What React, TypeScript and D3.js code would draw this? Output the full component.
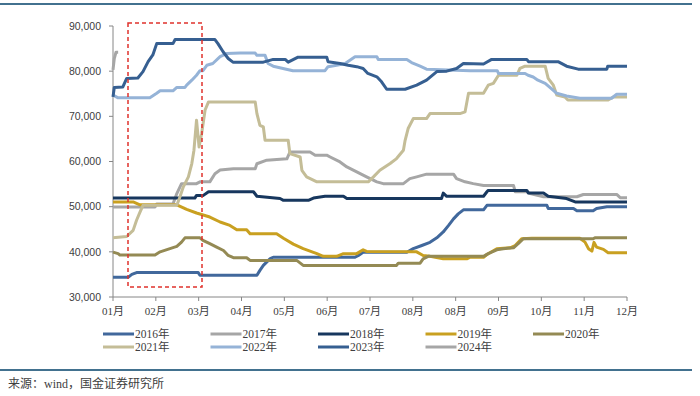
import React from 'react';
import * as d3 from 'd3';

// x positions are in month units (0 = 01月 tick, 12 = 12月 tick)
const months = ['01月', '02月', '03月', '04月', '05月', '06月', '07月', '08月', '08月', '09月', '10月', '11月', '12月'];
const yTicks = [30000, 40000, 50000, 60000, 70000, 80000, 90000];
const years = ['2016年', '2017年', '2018年', '2019年', '2020年', '2021年', '2022年', '2023年', '2024年'];
const colors = ['#41689C', '#A6A6A6', '#17375E', '#C9A020', '#948A54', '#C4BD97', '#95B3D7', '#365F91', '#A6A6A6'];

const s2016: [number, number][] = [
  [0, 34400], [0.36, 34400], [0.44, 35000], [0.55, 35400], [1.99, 35400], [2.03, 34800], [3.36, 34800],
  [3.43, 35900], [3.51, 37000], [3.67, 38500], [3.74, 38800], [5.65, 38800], [5.73, 39200], [5.84, 39900],
  [6.86, 39900], [7.01, 40700], [7.21, 41400], [7.4, 42100], [7.56, 43100], [7.71, 44400], [7.83, 45800],
  [7.95, 47300], [8.06, 48400], [8.18, 49300], [8.65, 49300], [8.73, 50300], [10.13, 50300], [10.16, 49600],
  [10.75, 49600], [10.83, 49100], [11.21, 49100], [11.29, 49600], [11.53, 50000], [12, 50000],
];
const s2017: [number, number][] = [
  [0, 49900], [0.98, 49900], [1.02, 50600], [1.4, 50600], [1.49, 52900], [1.6, 55100], [1.95, 55100],
  [2.03, 55500], [2.26, 55500], [2.38, 57300], [2.5, 58100], [2.81, 58400], [3.32, 58400], [3.36, 59500],
  [3.59, 60300], [4.06, 60600], [4.13, 62100], [4.6, 62100], [4.72, 61400], [4.99, 61400], [5.07, 61000],
  [5.3, 59900], [5.46, 58800], [5.69, 57700], [5.92, 56600], [6.16, 55500], [6.31, 55100], [6.78, 55100],
  [6.93, 56200], [7.09, 56600], [7.32, 57200], [7.95, 57200], [8.02, 56200], [8.22, 55500], [8.41, 55100],
  [8.65, 54700], [9.35, 54700], [9.39, 53300], [9.66, 53300], [9.74, 52900], [10.05, 52200], [10.83, 52200],
  [10.98, 52700], [11.76, 52700], [11.84, 52000], [12, 52000],
];
const s2018: [number, number][] = [
  [0, 51900], [1.91, 51900], [1.95, 52500], [2.11, 52500], [2.23, 53300], [3.28, 53300], [3.36, 52300],
  [3.9, 51800], [3.98, 51400], [4.56, 51400], [4.68, 51900], [4.95, 52300], [5.38, 52300], [5.46, 51800],
  [7.67, 51800], [7.71, 53000], [7.79, 52300], [8.65, 52300], [8.73, 53300], [8.76, 53600], [9.66, 53600],
  [9.7, 53000], [10.05, 53000], [10.16, 52300], [10.59, 51800], [10.79, 51050], [12, 51050],
];
const s2019: [number, number][] = [
  [0, 51050], [0.47, 51050], [0.63, 50400], [1.49, 50400], [1.72, 49400], [1.95, 48600], [2.26, 47700],
  [2.5, 46600], [2.73, 45850], [2.89, 44900], [3.12, 44900], [3.2, 44000], [3.82, 44000], [3.98, 43000],
  [4.21, 41700], [4.44, 40700], [4.76, 39600], [4.91, 39000], [5.22, 39000], [5.38, 39600], [5.69, 39600],
  [5.84, 40450], [5.92, 40100], [7.09, 40000], [7.24, 39200], [7.4, 39000], [7.71, 38450], [8.26, 38450],
  [8.34, 38800], [8.65, 38800], [8.73, 39400], [8.96, 40700], [9.27, 40900], [9.39, 41400], [9.54, 42900],
  [9.78, 43000], [10.9, 43000], [11.02, 42150], [11.1, 40700], [11.18, 40150], [11.23, 42100], [11.29, 41050],
  [11.45, 40550], [11.56, 39800], [12, 39800],
];
const s2020: [number, number][] = [
  [0, 39950], [0.12, 39600], [0.16, 39300], [0.98, 39300], [1.1, 40000], [1.33, 40700], [1.49, 41200],
  [1.6, 42150], [1.68, 43100], [2.03, 43100], [2.1, 42550], [2.26, 41800], [2.42, 41050], [2.58, 40300],
  [2.69, 39200], [2.81, 38700], [3.12, 38700], [3.2, 38100], [4.29, 38100], [4.44, 37000], [6.62, 37000],
  [6.66, 37500], [7.17, 37500], [7.24, 38450], [7.36, 39000], [8.65, 39000], [8.76, 39600], [8.96, 40450],
  [9.11, 40700], [9.35, 40900], [9.46, 41800], [9.58, 42900], [11.21, 42900], [11.25, 43100], [12, 43100],
];
const s2021: [number, number][] = [
  [0, 43100], [0.32, 43400], [0.47, 44750], [0.55, 47000], [0.63, 48800], [0.7, 50300], [1.49, 50300],
  [1.56, 52100], [1.64, 54350], [1.76, 56600], [1.84, 59550], [1.89, 62500], [1.95, 69150], [2.01, 63200],
  [2.07, 66200], [2.15, 71400], [2.23, 73200], [3.32, 73200], [3.36, 70600], [3.43, 68000], [3.51, 67650],
  [3.55, 64700], [4.09, 64700], [4.13, 61750], [4.37, 61000], [4.41, 58050], [4.52, 56600], [4.76, 55500],
  [5.96, 55500], [6.08, 56600], [6.23, 58050], [6.47, 59550], [6.62, 60650], [6.78, 62500], [6.82, 64700],
  [6.89, 67300], [7.01, 69500], [7.32, 69500], [7.4, 70600], [8.1, 70600], [8.22, 71000], [8.3, 75100],
  [8.65, 75100], [8.76, 76900], [8.88, 77300], [9.0, 79100], [9.43, 79100], [9.5, 80600], [9.62, 81100],
  [10.09, 81100], [10.16, 78400], [10.28, 76900], [10.36, 74700], [10.55, 74300], [10.62, 73600],
  [11.56, 73600], [11.68, 74300], [12, 74300],
];
const s2022: [number, number][] = [
  [0, 74700], [0.12, 74100], [0.86, 74100], [1.02, 75100], [1.1, 75650], [1.4, 75650], [1.49, 76400],
  [1.68, 76400], [1.72, 76900], [1.84, 78000], [1.95, 79100], [2.03, 80100], [2.1, 80100], [2.19, 81300],
  [2.33, 81700], [2.5, 83200], [2.65, 83900], [2.97, 84000], [3.32, 84000], [3.36, 83500], [3.55, 83500],
  [3.62, 81700], [3.74, 81100], [3.97, 80600], [4.2, 80100], [4.95, 80100], [5.02, 81000], [5.22, 81300],
  [5.42, 81700], [5.65, 83200], [6.16, 83200], [6.19, 82600], [6.86, 82600], [6.97, 81900], [7.17, 81100],
  [7.32, 80450], [8.34, 80100], [8.97, 80100], [9.0, 79500], [9.62, 79500], [9.69, 79100], [9.81, 78700],
  [9.92, 78000], [10.09, 77300], [10.2, 76400], [10.36, 75100], [10.59, 74500], [10.9, 74000], [11.64, 74000],
  [11.76, 74900], [12, 74900],
];
const s2023: [number, number][] = [
  [0, 74300], [0.03, 76400], [0.23, 76500], [0.32, 78400], [0.58, 78500], [0.7, 79900], [0.82, 82100],
  [0.93, 83600], [1.02, 86100], [1.4, 86100], [1.45, 87000], [2.38, 87000], [2.45, 86100], [2.57, 84300],
  [2.69, 82800], [2.8, 82000], [3.51, 82000], [3.74, 82600], [4.02, 82600], [4.09, 82000], [4.32, 83100],
  [4.99, 83100], [5.02, 82100], [5.3, 81700], [5.49, 81300], [5.69, 81000], [5.84, 80600], [5.95, 79500],
  [6.16, 78750], [6.27, 77650], [6.39, 76000], [6.82, 76000], [7.09, 76900], [7.32, 78000], [7.56, 79900],
  [7.79, 80000], [8.02, 80600], [8.18, 81700], [8.65, 81600], [8.84, 82600], [9.66, 82600], [9.7, 82100],
  [10.39, 82100], [10.59, 81100], [10.86, 80450], [11.53, 80450], [11.55, 81100], [12, 81100],
];
const s2024: [number, number][] = [[0, 80300], [0.03, 82800], [0.07, 84200], [0.12, 84200]];

const series = [s2016, s2017, s2018, s2019, s2020, s2021, s2022, s2023, s2024];

const W = 700, H = 396;
const left = 113, right = 627, top = 26, bottom = 297;

export default function App() {
  const x = d3.scaleLinear().domain([0, 12]).range([left, right]);
  const y = d3.scaleLinear().domain([30000, 90000]).range([bottom, top]);
  const line = d3.line<[number, number]>().x(d => x(d[0])).y(d => y(d[1]));
  const fmt = d3.format(',');
  const serif = '"Liberation Serif", "Noto Sans CJK SC", serif';

  return (
    <div style={{ position: 'absolute', left: 0, top: 0 }}>
      <svg width={W} height={H} style={{ display: 'block', background: '#fff' }}>
        <line x1={0} x2={692} y1={4} y2={4} stroke="#42718F" strokeWidth={2} />
        <line x1={0} x2={692} y1={370} y2={370} stroke="#42718F" strokeWidth={2} />

        {/* y axis */}
        <line x1={left} x2={left} y1={top} y2={bottom} stroke="#868686" />
        {yTicks.map(t => (
          <g key={t}>
            <line x1={left - 4} x2={left} y1={y(t)} y2={y(t)} stroke="#868686" />
            <text x={left - 12} y={y(t)} dy="0.35em" textAnchor="end" fontSize={10.5}
              fontFamily='"Liberation Sans", Arial, sans-serif' fill="#404040">{fmt(t)}</text>
          </g>
        ))}

        {/* x axis */}
        <line x1={left} x2={right} y1={bottom} y2={bottom} stroke="#868686" />
        {months.map((m, i) => (
          <g key={i}>
            <line x1={x(i)} x2={x(i)} y1={bottom} y2={bottom + 4} stroke="#868686" />
            <text x={x(i)} y={315} textAnchor="middle" fontSize={11} fontFamily={serif} fill="#404040">{m}</text>
          </g>
        ))}

        {series.map((s, i) => (
          <path key={i} d={line(s) || ''} fill="none" stroke={colors[i]} strokeWidth={3} strokeLinejoin="round" />
        ))}

        <rect x={128} y={23} width={74} height={264} fill="none" stroke="#E0322C" strokeWidth={1.5} strokeDasharray="4,3" />

        {/* legend */}
        {years.map((yr, i) => {
          const lx = 103 + (i % 5) * 107.5;
          const ly = 334 + Math.floor(i / 5) * 13;
          return (
            <g key={yr}>
              <line x1={lx} x2={lx + 31} y1={ly} y2={ly} stroke={colors[i]} strokeWidth={3} />
              <text x={lx + 32} y={ly} dy="0.35em" fontSize={11.5} fontFamily={serif} fill="#404040">{yr}</text>
            </g>
          );
        })}

        <text x={8} y={384} dy="0.35em" fontSize={12} fontFamily={serif} fill="#404040">来源：wind，国金证券研究所</text>
      </svg>
    </div>
  );
}
